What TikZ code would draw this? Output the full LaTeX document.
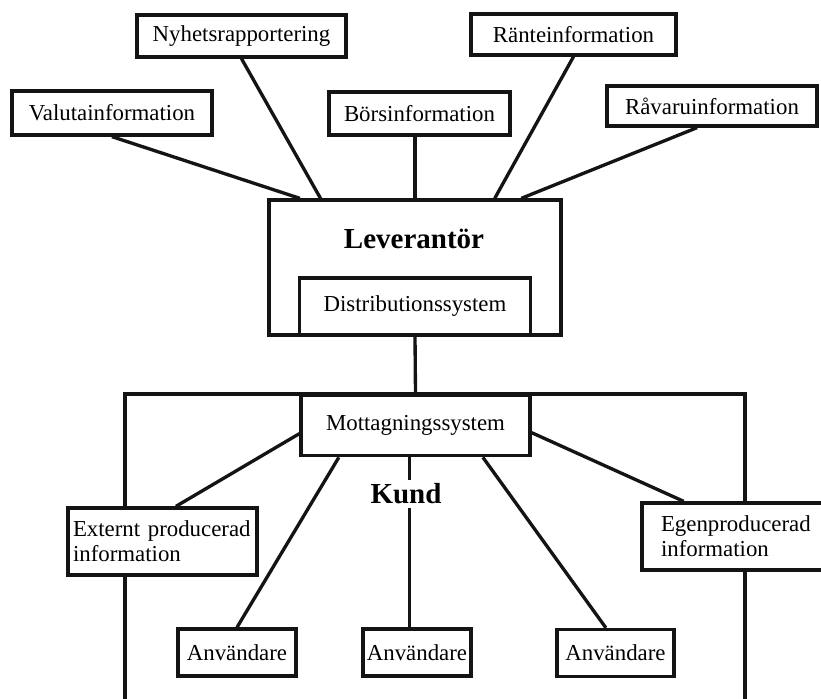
\documentclass[tikz,border=0pt]{standalone}
\usepackage{fontspec}
\setmainfont{Liberation Serif}
\usetikzlibrary{calc}
\definecolor{scanink}{gray}{0.08}
\colorlet{boxline}{scanink}

\begin{document}
\begin{tikzpicture}[x=0.02cm, y=-0.02cm, line width=1.9pt, draw=boxline,
    infobox/.style={draw=boxline, rectangle, fill=white, inner sep=0pt, font=\fontsize{13}{14.2}\selectfont},
    bigtitle/.style={inner sep=2pt, fill=white, font=\fontsize{16.5}{18}\selectfont\bfseries}]
      \useasboundingbox (0,0) rectangle (821,699);
      \clip (0,0) rectangle (821,699);

      % Kund frame, open at the bottom
      \coordinate (kundsw) at (125, 720);
      \coordinate (kundnw) at (125, 394);
      \coordinate (kundne) at (745, 394);
      \coordinate (kundse) at (745, 720);
      \draw (kundsw) -- (kundnw) -- (kundne) -- (kundse);

      % sources
      \node[infobox, minimum width=4.18cm, minimum height=0.84cm] at (241.5, 36) (nyhet) {Nyhetsrapportering};
      \node[infobox, minimum width=4.0cm, minimum height=0.88cm] at (112, 113) (valuta) {Valutainformation};
      \node[infobox, minimum width=3.62cm, minimum height=0.86cm] at (419.5, 113.5) (bors) {Börsinformation};
      \node[infobox, minimum width=4.1cm, minimum height=0.82cm] at (573.5, 34.5) (rante) {Ränteinformation};
      \node[infobox, minimum width=4.2cm, minimum height=0.8cm] at (712, 106) (ravaru) {Råvaruinformation};

      \node[infobox, minimum width=5.84cm, minimum height=2.7cm] at (415, 267.5) (lev) {};
      \node[bigtitle] at (414, 239) (levtitle) {Leverantör};
      \node[infobox, minimum width=4.62cm, minimum height=1.14cm, anchor=south] at (lev.south) (dist) {Distributionssystem};

      \node[infobox, minimum width=4.58cm, minimum height=1.2cm, anchor=north] at (415.5, 394) (mott) {Mottagningssystem};

      \node[infobox, minimum height=1.34cm, text width=3.58cm, inner xsep=0.1cm, align=left] at (162.5, 541.5) (externt) {Externt producerad\\information};
      \node[infobox, minimum height=1.34cm, text width=3.3cm, inner xsep=0.38cm, align=left] at (743.5, 536.5) (egen) {Egenproducerad\\information};

      \node[infobox, minimum width=2.36cm, minimum height=0.94cm] at (237, 652.5) (anv1) {Användare};
      \node[infobox, minimum width=2.16cm, minimum height=0.94cm] at (417, 652.5) (anv2) {Användare};
      \node[infobox, minimum width=2.34cm, minimum height=0.94cm] at (615.5, 653) (anv3) {Användare};

      % connectors to Leverantör
      \draw (valuta.south) -- ($(lev.north west)!0.11!(lev.north east)$);
      \draw (nyhet.south) -- ($(lev.north west)!0.18!(lev.north east)$);
      \draw (lev.north |- bors.south) -- (lev.north);
      \draw (rante.south) -- ($(lev.north west)!0.77!(lev.north east)$);
      \draw ($(ravaru.south west)!0.43!(ravaru.south east)$) -- ($(lev.north west)!0.86!(lev.north east)$);

      \draw (dist.south) -- (mott.north);

      % connectors inside Kund
      \draw ([yshift=-0.16cm]mott.west) -- ($(externt.north west)!0.57!(externt.north east)$);
      \draw ($(mott.south west)!0.17!(mott.south east)$) -- (anv1.north);
      \draw ([xshift=-0.12cm]mott.south) -- ([xshift=-0.12cm]mott.south |- anv2.north);
      \draw ($(mott.south west)!0.79!(mott.south east)$) -- ($(anv3.north west)!0.42!(anv3.north east)$);
      \draw ([yshift=-0.14cm]mott.east) -- ($(egen.north west)!0.21!(egen.north east)$);

      \node[bigtitle] at (406, 494) (kundtitle) {Kund};
\end{tikzpicture}
\end{document}
